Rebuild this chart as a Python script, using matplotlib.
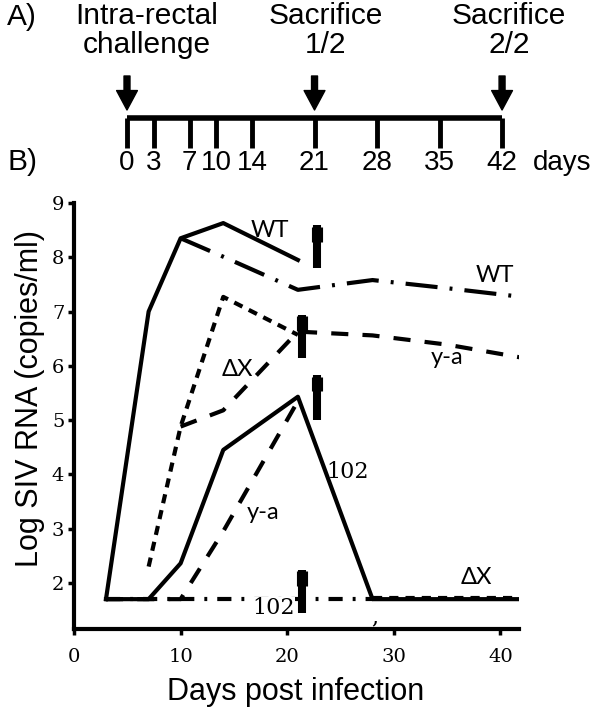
import matplotlib
matplotlib.use("Agg")
import matplotlib.pyplot as plt

# panel A - study timeline
timeline_days = [0, 3, 7, 10, 14, 21, 28, 35, 42]
timeline_labels = ["0", "3", "7", "10", "14", "21", "28", "35", "42"]
event_days = [0, 21, 42]
event_line1 = ["Intra-rectal", "Sacrifice", "Sacrifice"]
event_line2 = ["challenge", "1/2", "2/2"]

# panel B - plasma viral load (log copies/ml)
wt_days = [3, 7, 10, 14, 21]
wt_vl = [1.7, 7.0, 8.35, 8.63, 7.95]
wt2_days = [10, 14, 21, 28, 35, 42]
wt2_vl = [8.35, 8.01, 7.4, 7.58, 7.43, 7.27]
dx_days = [7, 10, 14, 21]
dx_vl = [2.3, 4.88, 7.27, 6.57]
dx2_days = [10, 14, 21, 28, 35, 42]
dx2_vl = [4.88, 5.18, 6.63, 6.56, 6.39, 6.15]
ya_days = [3, 7, 10, 14, 21]
ya_vl = [1.7, 1.7, 1.7, 2.95, 5.35]
r102_days = [3, 7, 10, 14, 21, 28, 42]
r102_vl = [1.7, 1.7, 2.36, 4.45, 5.43, 1.7, 1.7]
r102b_days = [3, 7, 10, 14, 21, 28]
r102b_vl = [1.7, 1.7, 1.7, 1.7, 1.7, 1.7]
dxb_days = [28, 35, 42]
dxb_vl = [1.72, 1.72, 1.72]

# sacrifice marks
sac_days = [22.8, 21.4, 22.8, 21.4]
sac_lo = [7.80, 6.15, 5.0, 1.45]
sac_hi = [8.59, 6.94, 5.83, 2.24]

xticks = [0, 10, 20, 30, 40]
yticks = [2, 3, 4, 5, 6, 7, 8, 9]

W, H = 600, 710
fig = plt.figure(figsize=(6, 7.1), dpi=100)
big = dict(family="Liberation Sans", fontsize=21.5)

# ---- panel A
axa = fig.add_axes([0, 1 - 190 / H, 1, 190 / H])
px_day = 8.93
x0 = 127
axa.set_xlim(-x0 / px_day, (W - x0) / px_day)
axa.set_ylim(190, 0)
axa.axis("off")
axa.plot([timeline_days[0], timeline_days[-1]], [118, 118], color="k", lw=4, solid_capstyle="butt")
axa.vlines(timeline_days, 118, 148, color="k", lw=3.5)
for d, lab in zip(timeline_days, timeline_labels):
    axa.text(d, 163, lab, ha="center", va="center", family="Liberation Sans", fontsize=20)
axa.annotate("days", xy=(timeline_days[-1], 163), xytext=(22, 0), textcoords="offset points",
             ha="left", va="center", family="Liberation Sans", fontsize=20)
offs = [14, 8, 5]
for d, l1, l2, o in zip(event_days, event_line1, event_line2, offs):
    axa.annotate("", xy=(d, 110), xytext=(d, 76),
                 arrowprops=dict(facecolor="k", edgecolor="k", width=4.3, headwidth=15,
                                 headlength=14, shrink=0))
    axa.annotate(l1, xy=(d, 24), xytext=(o, 0), textcoords="offset points", ha="center", va="baseline", **big)
    axa.annotate(l2, xy=(d, 53), xytext=(o, 0), textcoords="offset points", ha="center", va="baseline", **big)

fig.text(22 / W, 1 - 17 / H, "A)", ha="center", va="center", **big)
fig.text(22 / W, 1 - 162 / H, "B)", ha="center", va="center", **big)

# ---- panel B
ax = fig.add_axes([74 / W, 1 - 629 / H, 444.6 / W, 426 / H])
lw = 3
ax.plot(wt_days, wt_vl, color="k", lw=lw)
ax.plot(wt2_days, wt2_vl, color="k", lw=lw, ls=(0, (7.7, 2.9, 0.7, 2.9)))
ax.plot(dx_days, dx_vl, color="k", lw=lw, ls=(0, (2.2, 1.7)))
ax.plot(dx2_days, dx2_vl, color="k", lw=lw, ls=(0, (4.1, 3.4)))
ax.plot(ya_days, ya_vl, color="k", lw=lw, ls=(0, (4.1, 3.4)))
ax.plot(r102_days, r102_vl, color="k", lw=lw)
ax.plot(r102b_days, r102b_vl, color="k", lw=lw, ls=(0, (3.4, 2.4, 0.7, 2.4)))
ax.plot(dxb_days, dxb_vl, color="k", lw=lw, ls=(0, (2.2, 1.7)))

for d, lo, hi in zip(sac_days, sac_lo, sac_hi):
    ax.plot([d, d], [lo, hi], color="k", lw=5.8, solid_capstyle="butt", zorder=5)
    ax.plot([d, d], [hi - 0.3, hi - 0.03], color="k", lw=8, solid_capstyle="butt", zorder=5)

lab = dict(family=["Lato", "DejaVu Sans"], fontsize=17, ha="center", va="center")
ax.text(18.4, 8.5, "WT", **lab)
ax.text(39.5, 7.66, "WT", **lab)
ax.text(15.3, 5.94, "\u0394X", **lab)
ax.text(37.7, 2.09, "\u0394X", **lab)
ax.text(17.7, 3.29, "y-a", **lab)
ax.text(35.0, 6.16, "y-a", **lab)
num = dict(family="DejaVu Serif", fontsize=16, ha="center", va="center")
ax.text(25.7, 4.04, "102", **num)
ax.text(18.7, 1.54, "102", bbox=dict(facecolor="white", edgecolor="none", pad=0), zorder=4, **num)
ax.text(28.2, 1.36, ",", **num)

ax.set_xlim(0, 41.7)
ax.set_ylim(1.15, 9)
ax.set_xticks(xticks)
ax.set_yticks(yticks)
for s in ["top", "right"]:
    ax.spines[s].set_visible(False)
for s in ["left", "bottom"]:
    ax.spines[s].set_linewidth(3)
ax.tick_params(axis="both", direction="out", length=4, width=2.5)
ax.tick_params(axis="x", pad=10)
ax.tick_params(axis="y", pad=3)
for t in ax.get_xticklabels() + ax.get_yticklabels():
    t.set_family("DejaVu Serif")
    t.set_fontsize(14)

ax.set_xlabel("Days post infection", family="Liberation Sans", fontsize=22)
ax.xaxis.set_label_coords(0.499, -0.148)
ax.xaxis.label.set_va("center")
ax.set_ylabel("Log SIV RNA (copies/ml)", family="Liberation Sans", fontsize=22)
ax.yaxis.set_label_coords(-0.099, 0.54)
ax.yaxis.label.set_va("center")

fig.savefig("out.png", dpi=100)
